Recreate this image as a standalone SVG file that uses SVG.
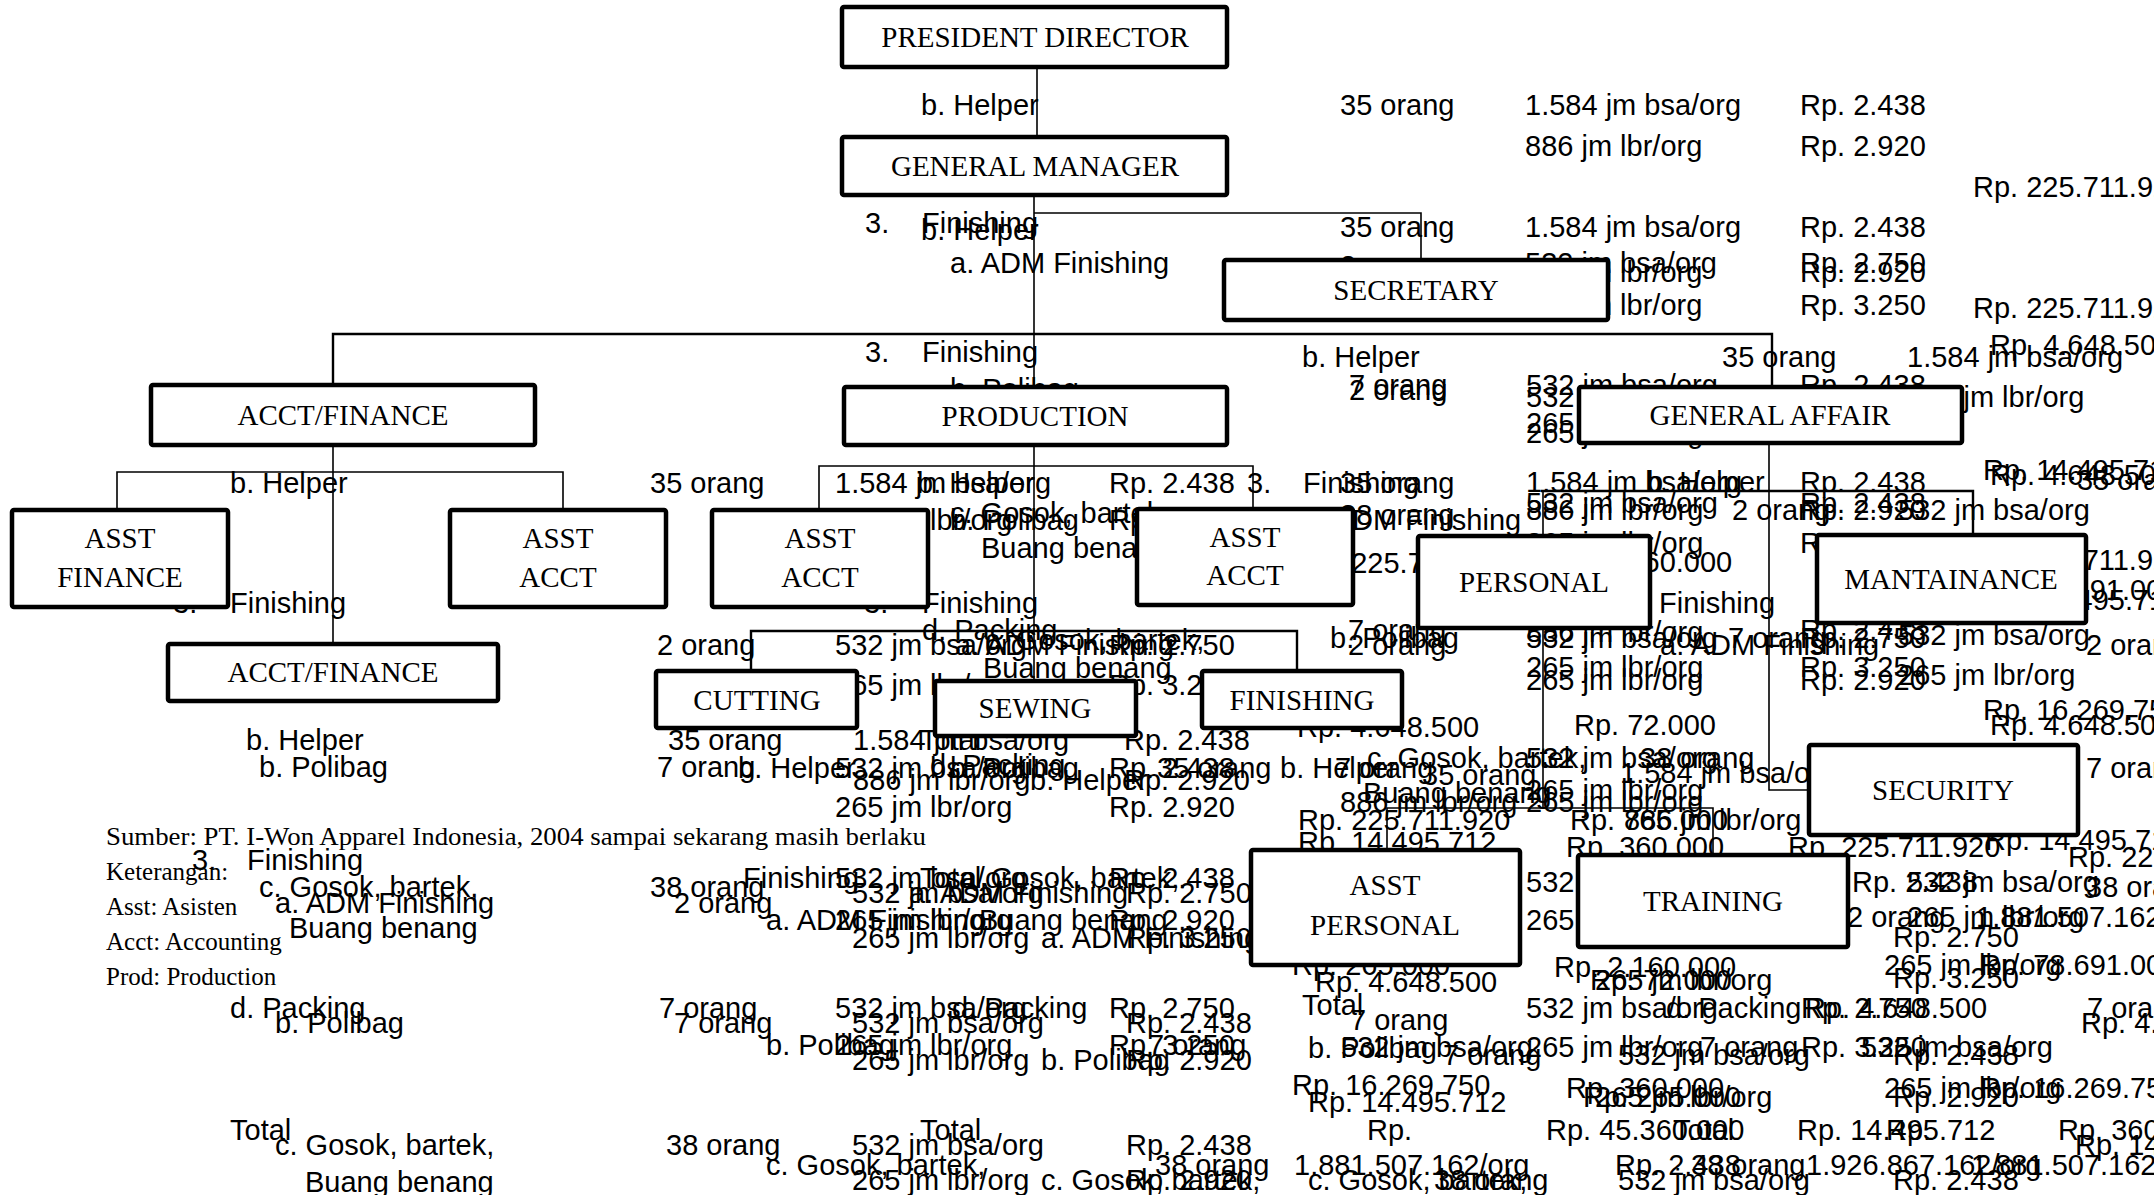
<svg xmlns="http://www.w3.org/2000/svg" width="2154" height="1195" viewBox="0 0 2154 1195">
<style>
.t{font-family:"Liberation Sans",Arial,sans-serif;font-size:29px;fill:#000}
.n{font-family:"Liberation Serif","Times New Roman",serif;font-size:29px;fill:#000;text-anchor:middle}
.f{font-family:"Liberation Serif","Times New Roman",serif;font-size:25px;fill:#000}
.box{fill:#fff;stroke:#000;stroke-width:4.5;stroke-linejoin:round}
.c{fill:none;stroke:#000;stroke-width:1.6}
.c2{fill:none;stroke:#000;stroke-width:2.4}
</style>
<rect x="0" y="0" width="2154" height="1195" fill="#fff"/>
<g id="texts">
<text class="t" x="921" y="115">b. Helper</text>
<text class="t" x="1340" y="115">35 orang</text>
<text class="t" x="1525" y="115">1.584 jm bsa/org</text>
<text class="t" x="1800" y="115">Rp. 2.438</text>
<text class="t" x="1525" y="156">886 jm lbr/org</text>
<text class="t" x="1800" y="156">Rp. 2.920</text>
<text class="t" x="1973" y="197">Rp. 225.711.920</text>
<text class="t" x="865" y="233">3.</text>
<text class="t" x="922" y="233">Finishing</text>
<text class="t" x="921" y="240">b. Helper</text>
<text class="t" x="1340" y="237">35 orang</text>
<text class="t" x="1525" y="237">1.584 jm bsa/org</text>
<text class="t" x="1800" y="237">Rp. 2.438</text>
<text class="t" x="950" y="273">a. ADM Finishing</text>
<text class="t" x="1340" y="276">2 orang</text>
<text class="t" x="1525" y="273">532 jm bsa/org</text>
<text class="t" x="1525" y="282">886 jm lbr/org</text>
<text class="t" x="1800" y="273">Rp. 2.750</text>
<text class="t" x="1800" y="282">Rp. 2.920</text>
<text class="t" x="1525" y="315">265 jm lbr/org</text>
<text class="t" x="1800" y="315">Rp. 3.250</text>
<text class="t" x="1973" y="318">Rp. 225.711.920</text>
<text class="t" x="1990" y="355">Rp. 4.648.500</text>
<text class="t" x="865" y="362">3.</text>
<text class="t" x="922" y="362">Finishing</text>
<text class="t" x="1302" y="367">b. Helper</text>
<text class="t" x="1722" y="367">35 orang</text>
<text class="t" x="1907" y="367">1.584 jm bsa/org</text>
<text class="t" x="950" y="399">b. Polibag</text>
<text class="t" x="1349" y="395">7 orang</text>
<text class="t" x="1349" y="400">2 orang</text>
<text class="t" x="1526" y="395">532 jm bsa/org</text>
<text class="t" x="1526" y="407">532 jm bsa/org</text>
<text class="t" x="1800" y="395">Rp. 2.438</text>
<text class="t" x="1907" y="407">886 jm lbr/org</text>
<text class="t" x="1526" y="433">265 jm lbr/org</text>
<text class="t" x="1526" y="443">265 jm lbr/org</text>
<text class="t" x="1983" y="480">Rp. 14.495.712</text>
<text class="t" x="1990" y="485">Rp. 4.648.500</text>
<text class="t" x="2077" y="490">35 orang</text>

<text class="t" x="230" y="493">b. Helper</text>
<text class="t" x="650" y="493">35 orang</text>
<text class="t" x="835" y="493">1.584 jm bsa/org</text>
<text class="t" x="917" y="493">b. Helper</text>
<text class="t" x="1109" y="493">Rp. 2.438</text>
<text class="t" x="1247" y="493">3.</text>
<text class="t" x="1303" y="493">Finishing</text>
<text class="t" x="1340" y="493">35 orang</text>
<text class="t" x="1526" y="492">1.584 jm bsa/org</text>
<text class="t" x="1647" y="492">b. Helper</text>
<text class="t" x="1800" y="492">Rp. 2.438</text>

<text class="t" x="835" y="530">886 jm lbr/org</text>
<text class="t" x="950" y="523">c. Gosok, bartek,</text>
<text class="t" x="950" y="530">b. Polibag</text>
<text class="t" x="1109" y="530">Rp. 2.920</text>
<text class="t" x="1340" y="525">38 orang</text>
<text class="t" x="1302" y="530">a. ADM Finishing</text>
<text class="t" x="1526" y="513">532 jm bsa/org</text>
<text class="t" x="1526" y="520">886 jm lbr/org</text>
<text class="t" x="1732" y="520">2 orang</text>
<text class="t" x="1800" y="513">Rp. 2.438</text>
<text class="t" x="1800" y="520">Rp. 2.920</text>
<text class="t" x="1898" y="520">532 jm bsa/org</text>

<text class="t" x="981" y="558">Buang benang</text>
<text class="t" x="1298" y="573">Rp. 225.711.920</text>
<text class="t" x="1526" y="553">265 jm lbr/org</text>
<text class="t" x="1550" y="572">Rp. 2.160.000</text>
<text class="t" x="1800" y="553">Rp. 3.250</text>
<text class="t" x="1973" y="570">Rp. 225.711.920</text>
<text class="t" x="1980" y="600">Rp. 78.691.000</text>
<text class="t" x="1983" y="610">Rp. 14.495.712</text>

<text class="t" x="173" y="613">3.</text>
<text class="t" x="230" y="613">Finishing</text>
<text class="t" x="864" y="613">3.</text>
<text class="t" x="922" y="613">Finishing</text>
<text class="t" x="1600" y="613">3.</text>
<text class="t" x="1659" y="613">Finishing</text>

<text class="t" x="250" y="665">a. ADM Finishing</text>
<text class="t" x="657" y="655">2 orang</text>
<text class="t" x="835" y="655">532 jm bsa/org</text>
<text class="t" x="922" y="640">d. Packing</text>
<text class="t" x="985" y="650">c. Gosok, bartek,</text>
<text class="t" x="955" y="655">a. ADM Finishing</text>
<text class="t" x="1109" y="655">Rp. 2.750</text>
<text class="t" x="1330" y="648">b. Polibag</text>
<text class="t" x="1348" y="640">7 orang</text>
<text class="t" x="1348" y="655">2 orang</text>
<text class="t" x="1526" y="642">886 jm lbr/org</text>
<text class="t" x="1526" y="648">532 jm bsa/org</text>
<text class="t" x="1728" y="648">7 orang</text>
<text class="t" x="1660" y="655">a. ADM Finishing</text>
<text class="t" x="1800" y="640">Rp. 2.438</text>
<text class="t" x="1800" y="648">Rp. 2.750</text>
<text class="t" x="1898" y="645">532 jm bsa/org</text>
<text class="t" x="2086" y="655">2 orang</text>

<text class="t" x="983" y="678">Buang benang</text>
<text class="t" x="835" y="695">265 jm lbr/org</text>
<text class="t" x="1109" y="695">Rp. 3.250</text>
<text class="t" x="1526" y="677">265 jm lbr/org</text>
<text class="t" x="1526" y="690">265 jm lbr/org</text>
<text class="t" x="1800" y="677">Rp. 3.250</text>
<text class="t" x="1800" y="690">Rp. 2.920</text>
<text class="t" x="1898" y="685">265 jm lbr/org</text>

<text class="t" x="1983" y="720">Rp. 16.269.750</text>
<text class="t" x="1990" y="735">Rp. 4.648.500</text>
<text class="t" x="1297" y="737">Rp. 4.648.500</text>
<text class="t" x="1574" y="735">Rp. 72.000</text>

<text class="t" x="246" y="750">b. Helper</text>
<text class="t" x="668" y="750">35 orang</text>
<text class="t" x="853" y="750">1.584 jm bsa/org</text>
<text class="t" x="920" y="750">Total</text>
<text class="t" x="1124" y="750">Rp. 2.438</text>

<text class="t" x="259" y="777">b. Polibag</text>
<text class="t" x="657" y="777">7 orang</text>
<text class="t" x="738" y="778">b. Helper</text>
<text class="t" x="835" y="778">532 jm bsa/org</text>
<text class="t" x="930" y="775">d. Packing</text>
<text class="t" x="950" y="778">b. Polibag</text>
<text class="t" x="1109" y="778">Rp. 2.438</text>
<text class="t" x="1157" y="778">35 orang</text>
<text class="t" x="1280" y="778">b. Helper</text>
<text class="t" x="1335" y="778">7 orang</text>
<text class="t" x="1367" y="768">c. Gosok, bartek,</text>
<text class="t" x="1526" y="768">532 jm bsa/org</text>
<text class="t" x="1640" y="768">38 orang</text>
<text class="t" x="1620" y="783">1.584 jm bsa/org</text>
<text class="t" x="1422" y="785">35 orang</text>
<text class="t" x="2086" y="778">7 orang</text>
<text class="t" x="1030" y="790">b. Helper</text>
<text class="t" x="853" y="790">886 jm lbr/org</text>
<text class="t" x="1124" y="790">Rp. 2.920</text>

<text class="t" x="1363" y="803">Buang benang</text>
<text class="t" x="1340" y="812">886 jm lbr/org</text>
<text class="t" x="1526" y="800">265 jm lbr/org</text>
<text class="t" x="1526" y="812">265 jm lbr/org</text>
<text class="t" x="835" y="817">265 jm lbr/org</text>
<text class="t" x="1109" y="817">Rp. 2.920</text>
<text class="t" x="1570" y="830">Rp. 765.000</text>
<text class="t" x="1624" y="830">886 jm lbr/org</text>
<text class="t" x="1298" y="830">Rp. 225.711.920</text>
<text class="t" x="1298" y="852">Rp. 14.495.712</text>
<text class="t" x="1566" y="857">Rp. 360.000</text>
<text class="t" x="1788" y="857">Rp. 225.711.920</text>
<text class="t" x="1985" y="850">Rp. 14.495.712</text>
<text class="t" x="2068" y="867">Rp. 225.711.920</text>

<text class="t" x="192" y="870">3.</text>
<text class="t" x="247" y="870">Finishing</text>
<text class="t" x="259" y="897">c. Gosok, bartek,</text>
<text class="t" x="275" y="913">a. ADM Finishing</text>
<text class="t" x="289" y="938">Buang benang</text>
<text class="t" x="650" y="897">38 orang</text>
<text class="t" x="674" y="913">2 orang</text>
<text class="t" x="743" y="888">Finishing</text>
<text class="t" x="835" y="888">532 jm bsa/org</text>
<text class="t" x="920" y="888">Total</text>
<text class="t" x="960" y="888">c. Gosok, bartek,</text>
<text class="t" x="1109" y="888">Rp. 2.438</text>
<text class="t" x="852" y="903">532 jm bsa/org</text>
<text class="t" x="909" y="903">a. ADM Finishing</text>
<text class="t" x="1126" y="903">Rp. 2.750</text>
<text class="t" x="766" y="930">a. ADM Finishing</text>
<text class="t" x="835" y="930">265 jm lbr/org</text>
<text class="t" x="979" y="930">Buang benang</text>
<text class="t" x="1109" y="930">Rp. 2.920</text>
<text class="t" x="852" y="948">265 jm lbr/org</text>
<text class="t" x="1041" y="948">a. ADM Finishing</text>
<text class="t" x="1126" y="948">Rp. 3.250</text>
<text class="t" x="1526" y="892">532 jm bsa/org</text>
<text class="t" x="1526" y="930">265 jm lbr/org</text>
<text class="t" x="1852" y="892">Rp. 2.438</text>
<text class="t" x="1907" y="892">532 jm bsa/org</text>
<text class="t" x="2086" y="897">38 orang</text>
<text class="t" x="1847" y="927">2 orang</text>
<text class="t" x="1907" y="927">265 jm lbr/org</text>
<text class="t" x="1976" y="927">1.881.507.162</text>
<text class="t" x="1893" y="947">Rp. 2.750</text>
<text class="t" x="1292" y="975">Rp. 265.000</text>
<text class="t" x="1554" y="977">Rp. 2.160.000</text>
<text class="t" x="1590" y="990">Rp. 72.000</text>
<text class="t" x="1595" y="990">265 jm lbr/org</text>
<text class="t" x="1884" y="975">265 jm lbr/org</text>
<text class="t" x="1980" y="975">Rp. 78.691.000</text>
<text class="t" x="1893" y="988">Rp. 3.250</text>
<text class="t" x="1315" y="992">Rp. 4.648.500</text>

<text class="t" x="230" y="1018">d. Packing</text>
<text class="t" x="275" y="1033">b. Polibag</text>
<text class="t" x="659" y="1018">7 orang</text>
<text class="t" x="674" y="1033">7 orang</text>
<text class="t" x="835" y="1018">532 jm bsa/org</text>
<text class="t" x="952" y="1018">d. Packing</text>
<text class="t" x="1109" y="1018">Rp. 2.750</text>
<text class="t" x="852" y="1033">532 jm bsa/org</text>
<text class="t" x="1126" y="1033">Rp. 2.438</text>
<text class="t" x="1302" y="1015">Total</text>
<text class="t" x="1350" y="1030">7 orang</text>
<text class="t" x="1526" y="1018">532 jm bsa/org</text>
<text class="t" x="1666" y="1018">d. Packing</text>
<text class="t" x="1801" y="1018">Rp. 2.750</text>
<text class="t" x="1805" y="1018">Rp. 4.648.500</text>
<text class="t" x="2087" y="1018">7 orang</text>
<text class="t" x="2081" y="1033">Rp. 4.648.500</text>
<text class="t" x="766" y="1055">b. Polibag</text>
<text class="t" x="835" y="1055">265 jm lbr/org</text>
<text class="t" x="1109" y="1055">Rp. 3.250</text>
<text class="t" x="1148" y="1055">7 orang</text>
<text class="t" x="852" y="1070">265 jm lbr/org</text>
<text class="t" x="1041" y="1070">b. Polibag</text>
<text class="t" x="1126" y="1070">Rp. 2.920</text>
<text class="t" x="1308" y="1058">b. Polibag</text>
<text class="t" x="1341" y="1057">532 jm bsa/org</text>
<text class="t" x="1526" y="1057">265 jm lbr/org</text>
<text class="t" x="1700" y="1057">7 orang</text>
<text class="t" x="1801" y="1057">Rp. 3.250</text>
<text class="t" x="1861" y="1057">532 jm bsa/org</text>
<text class="t" x="1443" y="1065">7 orang</text>
<text class="t" x="1618" y="1065">532 jm bsa/org</text>
<text class="t" x="1893" y="1065">Rp. 2.438</text>
<text class="t" x="1292" y="1095">Rp. 16.269.750</text>
<text class="t" x="1308" y="1112">Rp. 14.495.712</text>
<text class="t" x="1566" y="1098">Rp. 360.000</text>
<text class="t" x="1583" y="1107">Rp. 265.000</text>
<text class="t" x="1595" y="1107">265 jm lbr/org</text>
<text class="t" x="1884" y="1098">265 jm lbr/org</text>
<text class="t" x="1980" y="1098">Rp. 16.269.750</text>
<text class="t" x="1893" y="1107">Rp. 2.920</text>

<text class="t" x="230" y="1140">Total</text>
<text class="t" x="275" y="1155">c. Gosok, bartek,</text>
<text class="t" x="305" y="1192">Buang benang</text>
<text class="t" x="666" y="1155">38 orang</text>
<text class="t" x="920" y="1140">Total</text>
<text class="t" x="852" y="1155">532 jm bsa/org</text>
<text class="t" x="1126" y="1155">Rp. 2.438</text>
<text class="t" x="766" y="1175">c. Gosok, bartek,</text>
<text class="t" x="1155" y="1175">38 orang</text>
<text class="t" x="852" y="1190">265 jm lbr/org</text>
<text class="t" x="1041" y="1190">c. Gosok, bartek,</text>
<text class="t" x="1126" y="1190">Rp. 2.920</text>
<text class="t" x="1367" y="1140">Rp.</text>
<text class="t" x="1546" y="1140">Rp. 45.360.000</text>
<text class="t" x="1673" y="1140">Total</text>
<text class="t" x="1797" y="1140">Rp. 14.495.712</text>
<text class="t" x="1886" y="1140">Rp.</text>
<text class="t" x="2058" y="1140">Rp. 360.000</text>
<text class="t" x="2075" y="1155">Rp. 14.495.712</text>
<text class="t" x="1294" y="1175">1.881.507.162/org</text>
<text class="t" x="1308" y="1190">c. Gosok, bartek,</text>
<text class="t" x="1615" y="1175">Rp. 2.438</text>
<text class="t" x="1691" y="1175">38 orang</text>
<text class="t" x="1806" y="1175">1.926.867.162/org</text>
<text class="t" x="1971" y="1175">1.881.507.162</text>
<text class="t" x="1434" y="1190">38 orang</text>
<text class="t" x="1618" y="1190">532 jm bsa/org</text>
<text class="t" x="1893" y="1190">Rp. 2.438</text>

<text class="f" x="106" y="845" textLength="820" lengthAdjust="spacingAndGlyphs">Sumber: PT. I-Won Apparel Indonesia, 2004 sampai sekarang masih berlaku</text>
<text class="f" x="106" y="880">Keterangan:</text>
<text class="f" x="106" y="915">Asst: Asisten</text>
<text class="f" x="106" y="950">Acct: Accounting</text>
<text class="f" x="106" y="985">Prod: Production</text>
</g>
<g id="connectors">
<polyline class="c" points="1037,69 1037,135"/>
<polyline class="c" points="1034,197 1034,385"/>
<polyline class="c" points="1034,213 1421,213 1421,258"/>
<polyline class="c2" points="333,383 333,334 1772,334 1772,385"/>
<polyline class="c" points="333,447 333,642"/>
<polyline class="c" points="117,508 117,472 563,472 563,508"/>
<polyline class="c" points="1034,447 1034,679"/>
<polyline class="c" points="819,508 819,466 1253,466 1253,507"/>
<polyline class="c2" points="751,669 751,631 1297,631 1297,669"/>
<polyline class="c2" points="1541,491 1973,491 1973,533"/>
<polyline class="c" points="1769,445 1769,790 1807,790"/>
<polyline class="c" points="1543,491 1543,808"/>
<polyline class="c" points="1387,848 1387,808 1713,808 1713,853"/>
</g>
<g id="president-director"><rect class="box" x="842" y="7" width="385" height="60" rx="2"/><text class="n" x="1035" y="47">PRESIDENT DIRECTOR</text></g>
<g id="general-manager"><rect class="box" x="842" y="137" width="385" height="58" rx="2"/><text class="n" x="1035" y="176">GENERAL MANAGER</text></g>
<g id="secretary"><rect class="box" x="1224" y="260" width="384" height="60" rx="2"/><text class="n" x="1416" y="300">SECRETARY</text></g>
<g id="acct-finance"><rect class="box" x="151" y="385" width="384" height="60" rx="2"/><text class="n" x="343" y="425">ACCT/FINANCE</text></g>
<g id="production"><rect class="box" x="844" y="387" width="383" height="58" rx="2"/><text class="n" x="1035" y="426">PRODUCTION</text></g>
<g id="general-affair"><rect class="box" x="1579" y="387" width="383" height="56" rx="2"/><text class="n" x="1770" y="425">GENERAL AFFAIR</text></g>
<g id="asst-finance"><rect class="box" x="12" y="510" width="216" height="97" rx="2"/><text class="n" x="120" y="548">ASST</text><text class="n" x="120" y="587">FINANCE</text></g>
<g id="asst-acct-1"><rect class="box" x="450" y="510" width="216" height="97" rx="2"/><text class="n" x="558" y="548">ASST</text><text class="n" x="558" y="587">ACCT</text></g>
<g id="asst-acct-2"><rect class="box" x="712" y="510" width="216" height="97" rx="2"/><text class="n" x="820" y="548">ASST</text><text class="n" x="820" y="587">ACCT</text></g>
<g id="asst-acct-3"><rect class="box" x="1137" y="509" width="216" height="96" rx="2"/><text class="n" x="1245" y="547">ASST</text><text class="n" x="1245" y="585">ACCT</text></g>
<g id="personal"><rect class="box" x="1418" y="536" width="232" height="92" rx="2"/><text class="n" x="1534" y="592">PERSONAL</text></g>
<g id="mantainance"><rect class="box" x="1817" y="535" width="269" height="88" rx="2"/><text class="n" x="1951" y="589">MANTAINANCE</text></g>
<g id="acct-finance-2"><rect class="box" x="168" y="644" width="330" height="57" rx="2"/><text class="n" x="333" y="682">ACCT/FINANCE</text></g>
<g id="cutting"><rect class="box" x="656" y="671" width="201" height="57" rx="2"/><text class="n" x="757" y="710">CUTTING</text></g>
<g id="sewing"><rect class="box" x="935" y="681" width="201" height="55" rx="2"/><text class="n" x="1035" y="718">SEWING</text></g>
<g id="finishing"><rect class="box" x="1202" y="671" width="200" height="57" rx="2"/><text class="n" x="1302" y="710">FINISHING</text></g>
<g id="security"><rect class="box" x="1809" y="745" width="269" height="90" rx="2"/><text class="n" x="1943" y="800">SECURITY</text></g>
<g id="asst-personal"><rect class="box" x="1251" y="850" width="269" height="115" rx="2"/><text class="n" x="1385" y="895">ASST</text><text class="n" x="1385" y="935">PERSONAL</text></g>
<g id="training"><rect class="box" x="1578" y="855" width="270" height="92" rx="2"/><text class="n" x="1713" y="911">TRAINING</text></g>
</svg>
